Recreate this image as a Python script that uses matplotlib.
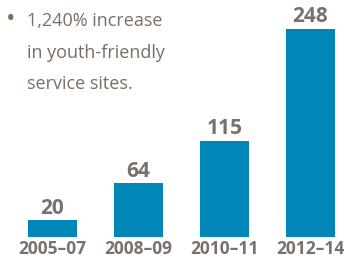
import matplotlib
matplotlib.use("Agg")
import matplotlib.pyplot as plt

periods = ["2005–07", "2008–09", "2010–11", "2012–14"]
sites = [20, 64, 115, 248]
note_lines = ["1,240% increase", "in youth-friendly", "service sites."]

bar_color = "#0087b8"
text_color = "#7b6e62"
label_color = "#7a716c"

fig = plt.figure(figsize=(3.52, 2.58), dpi=100)
ax = fig.add_axes([0, 21 / 258, 1, 237 / 258])

x = range(len(periods))
ax.bar(x, sites, width=0.57, color=bar_color)
ax.set_xlim(-52.5 / 86, (352 - 52.5) / 86)
ax.set_ylim(0, 282.6)
ax.axis("off")

for i, v in enumerate(sites):
    ax.text(i, v + 2, str(v), ha="center", va="bottom", fontsize=15,
            fontweight="bold", color=label_color, family="Open Sans")

for i, p in enumerate(periods):
    fig.text((52.5 + 86 * i) / 352, 1 - 249 / 258, p, ha="center", va="center",
             fontsize=12.5, fontweight="bold", color=label_color, family="Open Sans")

# bullet note
fig.text(11 / 352, 1 - 20 / 258, "•", ha="center", va="center", fontsize=18,
         color=text_color, family="Open Sans")
for j, line in enumerate(note_lines):
    fig.text(27 / 352, 1 - (21 + 31.5 * j) / 258, line, ha="left", va="center",
             fontsize=13, color=text_color, family="Open Sans")

fig.savefig("out.png", dpi=100)
